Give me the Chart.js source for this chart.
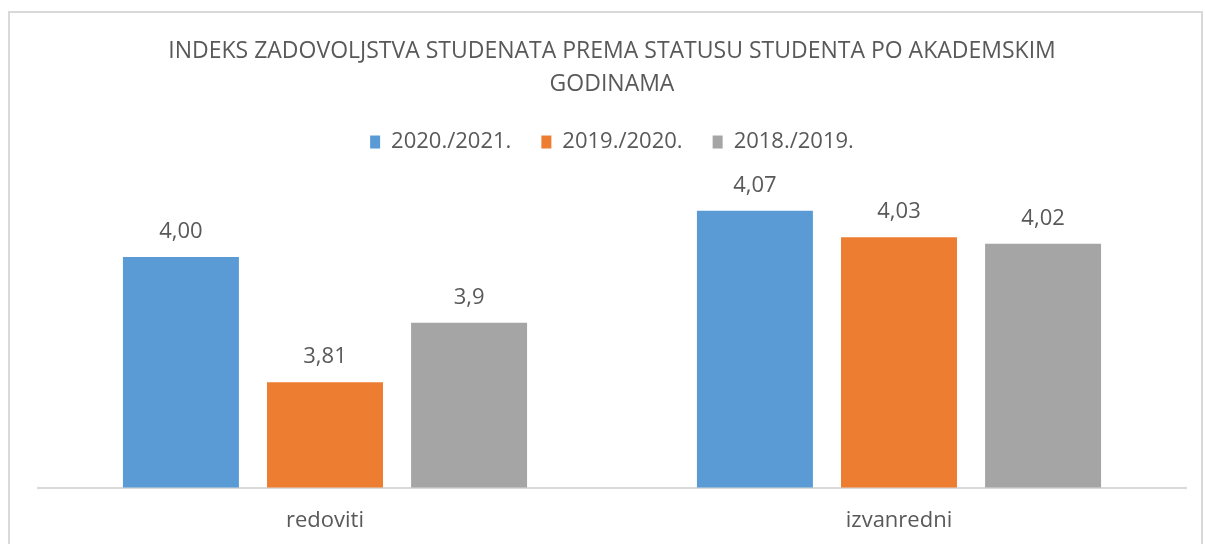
<!DOCTYPE html>
<html lang="hr">
<head>
    <meta charset="UTF-8">
    <title>Indeks zadovoljstva studenata</title>
    <script src="https://cdn.jsdelivr.net/npm/chart.js"></script>
    <style>
        body {
            margin: 0;
            padding: 0;
            background-color: #fff;
            overflow: hidden;
            font-family: 'Open Sans', sans-serif;
        }
        #frame {
            position: absolute;
            left: 8px;
            top: 11px;
            width: 1195px;
            height: 540px;
            border: 2px solid #d9d9d9;
            box-sizing: border-box;
        }
        #chart-container {
            position: absolute;
            left: 0;
            top: 0;
            width: 1206px;
            height: 554px;
        }
    </style>
</head>
<body>
    <div id="frame"></div>
    <div id="chart-container">
        <canvas id="bar-chart"></canvas>
    </div>

    <script>
        const categories = ['redoviti', 'izvanredni'];
        const seriesLabels = ['2020./2021.', '2019./2020.', '2018./2019.'];
        const values2021 = [4.00, 4.07];
        const values2020 = [3.81, 4.03];
        const values2019 = [3.9, 4.02];
        const valueLabels = [['4,00', '4,07'], ['3,81', '4,03'], ['3,9', '4,02']];
        const colors = ['#5b9bd5', '#ed7d31', '#a5a5a5'];

        const fontFamily = "'Open Sans', sans-serif";

        // draws the value above each bar
        const valueLabelPlugin = {
            id: 'valueLabels',
            afterDatasetsDraw(chart) {
                const ctx = chart.ctx;
                ctx.save();
                ctx.font = '22px ' + fontFamily;
                ctx.fillStyle = '#595959';
                ctx.textAlign = 'center';
                ctx.textBaseline = 'middle';
                chart.data.datasets.forEach((ds, i) => {
                    chart.getDatasetMeta(i).data.forEach((bar, j) => {
                        ctx.fillText(valueLabels[i][j], bar.x, bar.y - 25);
                    });
                });
                ctx.restore();
            }
        };

        // extra room under the legend
        const legendSpacing = {
            id: 'legendSpacing',
            beforeInit(chart) {
                const origFit = chart.legend.fit;
                chart.legend.fit = function () {
                    origFit.bind(chart.legend)();
                    this.height += 28;
                };
            }
        };

        const ctx = document.getElementById('bar-chart').getContext('2d');
        new Chart(ctx, {
            type: 'bar',
            data: {
                labels: categories,
                datasets: [values2021, values2020, values2019].map((vals, i) => ({
                    label: seriesLabels[i],
                    data: vals,
                    backgroundColor: colors[i],
                    categoryPercentage: 0.753,
                    barPercentage: 0.805
                }))
            },
            options: {
                responsive: true,
                maintainAspectRatio: false,
                animation: false,
                layout: {
                    padding: { left: 38, right: 20, top: 0, bottom: 0 }
                },
                plugins: {
                    title: {
                        display: true,
                        text: ['INDEKS ZADOVOLJSTVA STUDENATA PREMA STATUSU STUDENTA PO AKADEMSKIM', 'GODINAMA'],
                        color: '#595959',
                        font: { family: fontFamily, size: 23, weight: 'normal', lineHeight: 1.435 },
                        padding: { top: 35, bottom: 0 }
                    },
                    legend: {
                        display: true,
                        position: 'top',
                        labels: {
                            color: '#595959',
                            font: { family: fontFamily, size: 22 },
                            boxWidth: 10,
                            boxHeight: 13,
                            padding: 30
                        }
                    },
                    tooltip: { enabled: false }
                },
                scales: {
                    x: {
                        grid: { display: false, drawTicks: false },
                        border: { display: true, color: '#d9d9d9', width: 2 },
                        ticks: {
                            color: '#595959',
                            font: { family: fontFamily, size: 22 },
                            padding: 20
                        }
                    },
                    y: {
                        display: false,
                        min: 3.65,
                        max: 4.1
                    }
                }
            },
            plugins: [valueLabelPlugin, legendSpacing]
        });
    </script>
</body>
</html>
